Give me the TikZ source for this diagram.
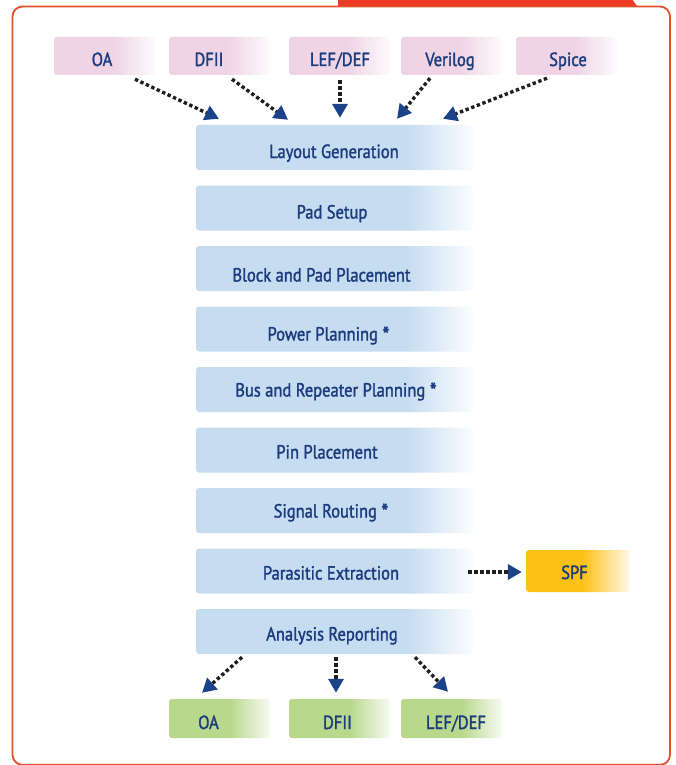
\documentclass[tikz,border=0pt]{standalone}
\usepackage{fontspec}
\setmainfont{PT Sans}[FakeStretch=0.87,FakeBold=1.6]
\usetikzlibrary{arrows.meta,calc}
\newcommand\myast{\raisebox{-2.5pt}{\fontsize{23}{23}\selectfont *}}
\definecolor{boxblue}{RGB}{197,220,241}
\definecolor{boxpink}{RGB}{238,212,228}
\definecolor{boxgreen}{RGB}{184,216,140}
\definecolor{boxgold}{RGB}{253,192,20}
\definecolor{navy}{RGB}{28,60,125}
\definecolor{arrowblue}{RGB}{28,66,138}
\definecolor{framered}{RGB}{226,80,46}
\definecolor{tabred}{RGB}{238,58,36}
\pgfdeclarehorizontalshading{fadeblue}{100bp}{color(0bp)=(boxblue); color(25bp)=(boxblue); color(63bp)=(boxblue); color(75bp)=(boxblue!6!white); color(100bp)=(boxblue!6!white)}
\pgfdeclarehorizontalshading{fadepink}{100bp}{color(0bp)=(boxpink); color(25bp)=(boxpink); color(54bp)=(boxpink); color(75bp)=(boxpink!10!white); color(100bp)=(boxpink!10!white)}
\pgfdeclarehorizontalshading{fadegreen}{100bp}{color(0bp)=(boxgreen); color(25bp)=(boxgreen); color(55bp)=(boxgreen); color(75bp)=(boxgreen!10!white); color(100bp)=(boxgreen!10!white)}
\pgfdeclarehorizontalshading{fadegold}{100bp}{color(0bp)=(boxgold); color(25bp)=(boxgold); color(52bp)=(boxgold); color(75bp)=(boxgold!8!white); color(100bp)=(boxgold!8!white)}
\begin{document}
\begin{tikzpicture}[x=1pt,y=-1pt,
  mainbox/.style={shading=fadeblue, rounded corners=3pt, inner sep=0pt, minimum width=277pt, minimum height=45pt},
  inbox/.style={shading=fadepink, rounded corners=3pt, inner sep=0pt, minimum width=101pt, minimum height=38pt},
  outbox/.style={shading=fadegreen, rounded corners=3pt, inner sep=0pt, minimum width=101pt, minimum height=39pt},
  goldbox/.style={shading=fadegold, rounded corners=3pt, inner sep=0pt, minimum width=104pt, minimum height=42pt},
  txt/.style={text=navy, font=\fontsize{19}{21}\selectfont, anchor=base, inner sep=0pt},
  flow/.style={draw=black!88, line width=3.4pt, dash pattern=on 3.4pt off 2.6pt,
    -{Triangle[length=14pt,width=15pt,color=arrowblue,fill=arrowblue]}}
]
\useasboundingbox (0,0) rectangle (676,765);
\fill[white] (0,0) rectangle (676,765);
% tab and frame
\fill[tabred] (338,-1) -- (632,-1) -- (637.5,7) -- (338,7) -- cycle;
\draw[framered, line width=1.8pt, rounded corners=10pt] (12.5,6.5) rectangle (670,764.8);

% input boxes
\node[inbox] (inoa)  at (104.5,56) {};
\node[inbox] (indf)  at (219.5,56) {};
\node[inbox] (inlef) at (339.5,56) {};
\node[inbox] (inver) at (451.5,56) {};
\node[inbox] (insp)  at (566.5,56) {};
\node[txt] (inoat)  at (102,66) {OA};
\node[txt] (indft)  at (209,66) {DFII};
\node[txt] (inleft) at (340,66) {LEF/DEF};
\node[txt] (invert) at (450,66) {Verilog};
\node[txt] (inspt)  at (568,66) {Spice};

% main flow boxes
\node[mainbox] (lg) at (334.5,147.5) {};
\node[mainbox] (ps) at (334.5,208) {};
\node[mainbox] (bp) at (334.5,268.5) {};
\node[mainbox] (pp) at (334.5,329) {};
\node[mainbox] (br) at (334.5,389.5) {};
\node[mainbox] (pi) at (334.5,450) {};
\node[mainbox] (sr) at (334.5,510.5) {};
\node[mainbox] (pe) at (334.5,571) {};
\node[mainbox] (ar) at (334.5,631.5) {};
\node[txt] (lgt) at (334,158) {Layout Generation};
\node[txt] (pst) at (332,218.5) {Pad Setup};
\node[txt] (bpt) at (321.5,281.5) {Block and Pad Placement};
\node[txt] (ppt) at (328.5,340.5) {Power Planning \myast};
\node[txt] (brt) at (336,396.5) {Bus and Repeater Planning \myast};
\node[txt] (pit) at (327,458.5) {Pin Placement};
\node[txt] (srt) at (331,517.5) {Signal Routing \myast};
\node[txt] (pet) at (331,579.5) {Parasitic Extraction};
\node[txt] (art) at (332,640.5) {Analysis Reporting};

% SPF
\node[goldbox] (spf) at (578,571) {};
\node[txt] (spft) at (574.5,579) {SPF};

% output boxes
\node[outbox] (outoa)  at (219.5,718.5) {};
\node[outbox] (outdf)  at (339.5,718.5) {};
\node[outbox] (outlef) at (451.5,718.5) {};
\node[txt] (outoat)  at (208.5,729) {OA};
\node[txt] (outdft)  at (337.5,729) {DFII};
\node[txt] (outleft) at (456,729) {LEF/DEF};

% connector end points
\coordinate (a1s) at ($(inoa.south)+(30.5,4)$);
\coordinate (a1e) at ($(lg.north)+(-115.5,-6)$);
\coordinate (a2s) at ($(indf.south)+(12.5,4)$);
\coordinate (a2e) at ($(lg.north)+(-46.5,-5)$);
\coordinate (a3s) at ($(inlef.south)+(0.5,5)$);
\coordinate (a3e) at ($(lg.north)+(5.5,-7)$);
\coordinate (a4s) at ($(inver.south)+(-21.5,3)$);
\coordinate (a4e) at ($(lg.north)+(62.5,-6)$);
\coordinate (a5s) at ($(insp.south)+(-19.5,3)$);
\coordinate (a5e) at ($(lg.north)+(108.5,-6)$);
\coordinate (b1s) at ($(ar.south)+(-92.5,3)$);
\coordinate (b1e) at ($(outoa.north)+(-17.5,-6)$);
\coordinate (b2s) at ($(ar.south)+(1.5,3)$);
\coordinate (b2e) at ($(outdf.north)+(-3.5,-6)$);
\coordinate (b3s) at ($(ar.south)+(80.5,3)$);
\coordinate (b3e) at ($(outlef.north)+(-3.5,-7)$);
\coordinate (cs) at ($(pe.east)+(-5,1)$);
\coordinate (ce) at ($(spf.west)+(-4,1)$);

\draw[flow] (a1s) -- (a1e);
\draw[flow] (a2s) -- (a2e);
\draw[flow] (a3s) -- (a3e);
\draw[flow] (a4s) -- (a4e);
\draw[flow] (a5s) -- (a5e);
\draw[flow] (b1s) -- (b1e);
\draw[flow] (b2s) -- (b2e);
\draw[flow] (b3s) -- (b3e);
\draw[flow] (cs) -- (ce);
\end{tikzpicture}
\end{document}
